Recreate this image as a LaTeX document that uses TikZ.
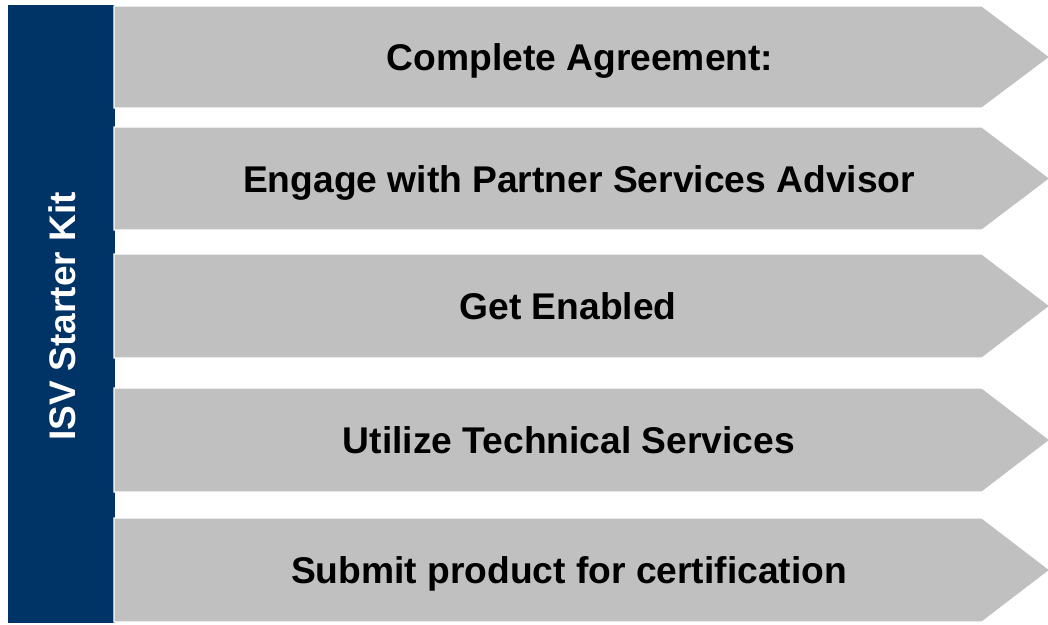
\documentclass[tikz,border=0pt]{standalone}
\usepackage{fontspec}
\setmainfont{Liberation Sans}
\definecolor{navy}{RGB}{0,51,102}
\definecolor{greyfill}{RGB}{192,192,192}
\tikzset{
  steparrow/.style={fill=greyfill, draw=white, line width=1.2pt},
  steplabel/.style={font=\bfseries\fontsize{37.2}{44}\selectfont, text=black, inner sep=0pt, anchor=base},
  sidelabel/.style={font=\bfseries\fontsize{37}{44}\selectfont, text=white, inner sep=0pt, rotate=90, anchor=base}
}
\begin{document}
\begin{tikzpicture}[x=1pt,y=-1pt]
\useasboundingbox (0,0) rectangle (1048,624);
\fill[navy] (8,5) rectangle (115,623);
\node[sidelabel] (side) at (75,316.5) {ISV Starter Kit};
\foreach \t/\b [count=\i] in {6/108, 127/230, 254/358, 388/492, 518/622}{
  \draw[steparrow] (114,\t) -- (982,\t) -- (1050,{(\t+\b)/2}) -- (982,\b) -- (114,\b) -- cycle;
}
\node[steplabel] (s1) at (580,70) {Complete Agreement:};
\node[steplabel] (s2) at (579,192) {Engage with Partner Services Advisor};
\node[steplabel] (s3) at (568,319.5) {Get Enabled};
\node[steplabel] (s4) at (569,453.5) {Utilize Technical Services};
\node[steplabel] (s5) at (569,583.5) {Submit product for certification};
\end{tikzpicture}
\end{document}
